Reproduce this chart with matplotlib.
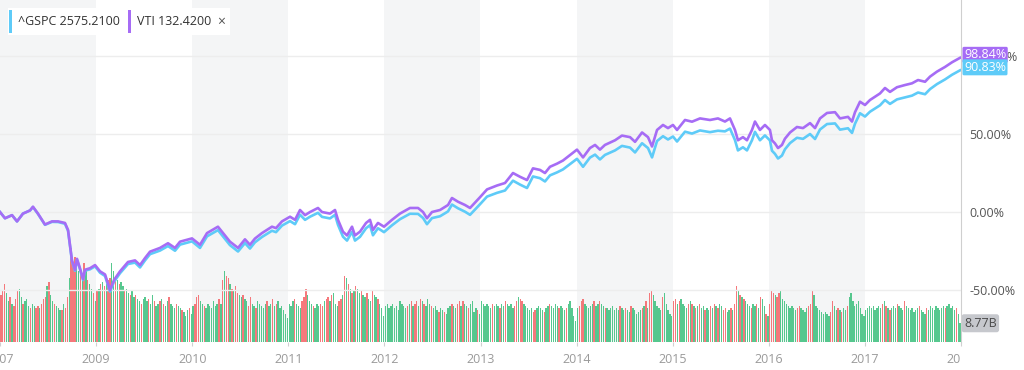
import numpy as np
import pandas as pd
import matplotlib
matplotlib.use("Agg")
import matplotlib.pyplot as plt
from matplotlib.patches import Rectangle
from matplotlib.transforms import Bbox

plt.rcParams['font.family'] = ['Open Sans', 'DejaVu Sans']

# price comparison (% change since start), dates as decimal years
dates = [2008.000, 2008.052, 2008.125, 2008.177, 2008.239, 2008.312, 2008.343, 2008.395,
         2008.468, 2008.541, 2008.604, 2008.676, 2008.708, 2008.749, 2008.780, 2008.801,
         2008.832, 2008.864, 2008.884, 2008.937, 2008.989, 2009.041, 2009.093, 2009.145,
         2009.186, 2009.249, 2009.332, 2009.405, 2009.457, 2009.509, 2009.561, 2009.665,
         2009.748, 2009.821, 2009.873, 2009.998, 2010.081, 2010.154, 2010.268, 2010.310,
         2010.393, 2010.477, 2010.549, 2010.601, 2010.653, 2010.726, 2010.830, 2010.872,
         2010.934, 2011.018, 2011.070, 2011.122, 2011.174, 2011.226, 2011.309, 2011.351,
         2011.434, 2011.486, 2011.517, 2011.569, 2011.611, 2011.663, 2011.694, 2011.746,
         2011.809, 2011.850, 2011.881, 2011.933, 2011.996, 2012.079, 2012.162, 2012.266,
         2012.350, 2012.402, 2012.443, 2012.495, 2012.579, 2012.662, 2012.703, 2012.766,
         2012.839, 2012.891, 2012.995, 2013.068, 2013.172, 2013.255, 2013.338, 2013.411,
         2013.484, 2013.546, 2013.619, 2013.671, 2013.723, 2013.796, 2013.858, 2013.931,
         2014.004, 2014.067, 2014.139, 2014.192, 2014.243, 2014.295, 2014.400, 2014.472,
         2014.556, 2014.608, 2014.681, 2014.743, 2014.785, 2014.837, 2014.899, 2014.951,
         2015.003, 2015.045, 2015.128, 2015.201, 2015.284, 2015.388, 2015.471, 2015.544,
         2015.596, 2015.648, 2015.679, 2015.731, 2015.773, 2015.825, 2015.856, 2015.908,
         2015.960, 2016.012, 2016.033, 2016.064, 2016.096, 2016.137, 2016.168, 2016.221,
         2016.293, 2016.356, 2016.429, 2016.481, 2016.533, 2016.606, 2016.689, 2016.741,
         2016.824, 2016.866, 2016.897, 2016.949, 2017.001, 2017.053, 2017.157, 2017.209,
         2017.261, 2017.334, 2017.417, 2017.490, 2017.553, 2017.626, 2017.678, 2017.750,
         2017.834, 2017.907, 2017.990]

vti = [0, -4, -2, -6, -1, 1, 3.4, -1, -8, -6, -6, -7, -11.5, -31, -37, -30,
       -36, -43, -37, -36, -34, -38, -40, -50, -43.6, -38, -32, -31, -34, -29.5, -25.4, -23,
       -20, -23, -19, -16.9, -21, -13.5, -9.4, -12.6, -19, -23, -17.5, -21, -17, -13.5, -9.4, -10.3,
       -6, -3, -5, 1.3, -2, 0, 2.6, 0, -1, 1.3, -5, -12.6, -15, -9.4, -15, -12.6,
       -7, -5, -11.5, -7, -9.4, -5, -1, 2.6, 2.6, 0, -4, 0, 1.3, 4.5, 9, 6.6,
       4.5, 2.6, 9.5, 14.5, 17, 18.6, 25, 22.6, 20.5, 28, 27, 25, 29, 31, 33, 36.5,
       40, 35, 41, 43, 40, 43, 46, 49, 48, 45, 51, 48, 42, 52.6, 55.8, 53.8,
       55.8, 52.6, 59, 57.9, 60, 59, 60, 58, 60, 52.6, 46, 48, 46, 52.6, 58, 52.6,
       55.8, 52.6, 46, 44, 41, 43, 47, 51, 54.5, 53.8, 57, 53.8, 60, 63.5, 64, 60,
       61, 58, 64, 70.7, 68.6, 71.8, 76, 79.5, 77, 80, 81.4, 82.5, 84.6, 83.5, 86.8, 90,
       93, 96, 98.84]

gspc = [0, -4, -2, -6, -1, 1, 3.2, -1.2, -8.2, -6.3, -6.4, -7.5, -12, -31.5, -37.6, -30.6,
        -36.6, -43.6, -37.6, -36.7, -34.8, -38.9, -41, -51, -44.7, -39.2, -33.3, -32.4, -35.5, -31, -27, -24.7,
        -21.8, -24.8, -20.9, -18.8, -23, -15.6, -11.6, -14.8, -21.2, -25.3, -19.9, -23.4, -19.4, -16, -12, -12.9,
        -8.7, -5.8, -7.8, -1.7, -5, -3, -0.5, -3.1, -4.1, -1.8, -8.2, -15.8, -18.3, -12.7, -18.3, -15.9,
        -10.4, -8.4, -14.9, -10.4, -12.9, -8.5, -4.6, -1.1, -1.2, -3.8, -7.8, -3.9, -2.7, 0.4, 4.8, 2.4,
        0.2, -1.8, 5, 9.9, 12.3, 13.8, 20.1, 17.6, 15.4, 22.8, 21.7, 19.6, 23.5, 25.4, 27.3, 30.7,
        34.1, 29, 34.9, 36.8, 33.7, 36.6, 39.5, 42.4, 41.3, 38.2, 44.1, 41, 35, 45.5, 48.6, 46.5,
        48.4, 45.2, 51.5, 50.3, 52.3, 51.2, 52.1, 51.7, 53.5, 46.1, 39.5, 41.5, 39.5, 46, 51.4, 46,
        49.1, 45.9, 39.3, 37.3, 34.3, 36.2, 40.2, 44.2, 47.6, 46.9, 50, 46.8, 52.9, 56.4, 56.8, 52.8,
        53.7, 50.7, 56.6, 63.3, 61.2, 64.3, 68.4, 71.8, 69.3, 72.2, 73.5, 74.6, 76.6, 75.5, 78.8, 82,
        85, 88, 90.83]

# weekly volume in billions, sign = up (+) / down (-) week
vol_2008 = [-22, -24, -27, 23, 19, -21, 18, -17, -20, -24, 25, 21,
            -18, 19, 20, 17, -16, 18, 17, -16, -17, 16, -18, -20,
            -21, 26, -28, 22, 19, -18, 17, 16, 15, -15, 18, -16,
            -21, 30, -44, -36, -40, 38, 33, -32, 30, -37, 34, -29,
            27, 25, -23, 19]
vol_2009 = [-24, 25, -27, 28, -26, 27, -29, -30, 37, 33, -31, 29,
            -27, 28, 26, -24, 25, 23, -22, 24, 21, -22, 20, 19,
            -18, 20, 21, 19, -20, 18, 22, -19, 17, 18, -19, 20,
            -18, 17, 19, -21, 18, 17, 16, -18, 17, 16, -15, 14,
            12, 15, -16, 13]
vol_2010 = [17, -18, -21, -22, 19, 18, -17, 16, 18, 17, 16, 19,
            17, 18, -20, 18, -29, 33, -31, -30, 27, -25, 24, -26,
            -23, 22, 21, -22, 20, 19, -17, -21, 18, 17, -16, 19,
            18, 17, 16, 18, -19, 17, 18, -20, 17, -18, 19, 16,
            17, 15, 13, 11]
vol_2011 = [18, 17, 19, -20, 18, 17, 16, -19, -21, -25, 22, 19,
            18, -17, 16, 18, 17, -18, -17, 19, -20, -21, 19, -22,
            23, 18, 17, -19, -20, 22, -31, 30, -27, 25, -23, 24,
            -26, 25, 23, -24, 22, 21, -23, 20, 19, -24, 22, 21,
            -20, 18, 16, 12]
vol_2012 = [17, 18, 16, 17, 18, 16, 17, 15, 19, 18, 17, 16,
            -17, 18, -19, 17, -18, -19, 17, -20, 19, -18, 17, 20,
            18, -17, 16, 17, 15, -14, 16, 15, -14, 13, 16, 17,
            -18, 17, 16, -18, -19, 17, -19, 18, 17, -16, 18, 19,
            14, 16, -15, 13]
vol_2013 = [19, 18, 17, 18, 17, 16, -18, 17, 18, 17, -16, 18,
            17, -19, 18, 17, 18, 16, -17, -19, 21, -20, -19, 18,
            17, 16, 15, 16, -14, -15, 16, 17, 16, 15, -14, 16,
            17, -18, 17, 16, 18, 17, -16, 17, 16, 15, -16, 18,
            19, 16, 12, 10]
vol_2014 = [16, -17, -19, -20, 18, 17, 16, 17, 18, -19, 17, 18,
            -19, 18, 17, -16, 16, 15, 16, 17, 15, 16, 15, -17,
            16, 15, -16, 15, 14, -17, 16, 15, 13, 14, 15, -16,
            17, -19, 16, -23, -24, 22, 19, 17, 16, 15, -21, 23,
            18, 15, 13, 12]
vol_2015 = [-19, -20, 18, -19, 20, 18, 17, 16, -18, 19, -18, 17,
            -16, 17, -18, 16, 17, -15, 16, 15, -17, 16, -18, 17,
            -16, 18, 17, -15, -16, 14, 15, -16, 15, -18, -26, 24,
            -22, 21, -20, 19, 18, 17, -16, 18, 17, -18, 16, -21,
            20, 17, -13, 12]
vol_2016 = [-18, -24, -23, 22, -21, -23, 24, 20, 19, 18, 17, 16,
            17, 16, 15, -16, -17, 16, 15, 14, 16, -17, -18, -24,
            22, 17, 16, 15, 14, 13, 14, 13, 12, -14, -19, 17,
            15, -16, 15, -14, 16, 15, -17, 21, 23, 19, 17, 18,
            19, 16, 13, 12]
vol_2017 = [15, 16, 17, 16, 17, 15, 16, 17, 16, -18, 19, -17,
            16, -15, 16, 17, 16, -18, 17, 16, 15, -19, 17, 16,
            15, 16, 14, 15, 16, -17, 15, 14, 13, -16, 15, 17,
            16, 15, 17, 16, 15, 16, 17, -16, 17, 18, 16, 17,
            15, -16, 13, 8.77]

volumes = {2008: vol_2008, 2009: vol_2009, 2010: vol_2010, 2011: vol_2011, 2012: vol_2012,
           2013: vol_2013, 2014: vol_2014, 2015: vol_2015, 2016: vol_2016, 2017: vol_2017}

year_ticks = list(range(2008, 2019))
year_labels = ['2007'] + [str(y) for y in range(2009, 2019)]
pct_ticks = [-50, 0, 50, 100]

c_vti = '#a66cf5'
c_spx = '#5ecbf8'
c_up = '#45c283'
c_down = '#f46b6e'

W, H = 1024, 370
fig = plt.figure(figsize=(W / 100, H / 100), dpi=100)
ax = fig.add_axes([0, (H - 342) / H, 961 / W, 342 / H])
axv = ax.twinx()
ax.set_zorder(2)
axv.set_zorder(1)
ax.patch.set_visible(False)

ax.set_xlim(2008, 2018)
ax.set_ylim(-83.3, 135.9)
axv.set_ylim(0, 160)

# alternating year bands
for y0 in range(2008, 2018, 2):
    axv.axvspan(y0, y0 + 1, color='#f4f5f6', zorder=0, lw=0)

# volume bars
for yr, vals in volumes.items():
    n = len(vals)
    xs = [yr + (i + 0.5) / n for i in range(n)]
    hs = [abs(v) for v in vals]
    cs = [c_up if v > 0 else c_down for v in vals]
    axv.bar(xs, hs, width=0.72 / 52, color=cs, alpha=0.9, linewidth=0, zorder=2)
axv.set_yticks([])

# grid
for t in pct_ticks:
    ax.axhline(t, color='#ededed', lw=1, zorder=0)

ax.plot(dates, gspc, color=c_spx, lw=1.9, zorder=3, solid_joinstyle='round')
ax.plot(dates, vti, color=c_vti, lw=1.9, zorder=4, solid_joinstyle='round')

for a in (ax, axv):
    for s in ('top', 'left', 'bottom', 'right'):
        a.spines[s].set_visible(False)
ax.spines['right'].set_visible(True)
ax.spines['right'].set_color('#cfcfcf')

ax.yaxis.tick_right()
ax.set_yticks(pct_ticks)
ax.set_yticklabels([f'{t:.2f}%' for t in pct_ticks])
ax.tick_params(axis='y', length=0, pad=6, labelsize=9, labelcolor='#555555')

ax.set_xticks(year_ticks)
ax.set_xticklabels(year_labels)
ax.tick_params(axis='x', length=3, color='#d0d0d0', pad=5, labelsize=9, labelcolor='#9a9a9a')
clip = Bbox.from_extents(0, 0, 961, H)
for tk in ax.xaxis.get_major_ticks():
    tk.label1.set_clip_box(clip)
    tk.label1.set_clip_on(True)

# last-value tags on the right axis
ax.annotate(f'{vti[-1]:.2f}%', xy=(1, vti[-1]), xycoords=('axes fraction', 'data'),
            xytext=(3, 3), textcoords='offset pixels', va='center', ha='left',
            color='white', fontsize=9, zorder=10, annotation_clip=False,
            bbox=dict(boxstyle='round,pad=0.12', fc=c_vti, ec='none'))
ax.annotate(f'{gspc[-1]:.2f}%', xy=(1, gspc[-1]), xycoords=('axes fraction', 'data'),
            xytext=(3, 3), textcoords='offset pixels', va='center', ha='left',
            color='white', fontsize=9, zorder=10, annotation_clip=False,
            bbox=dict(boxstyle='round,pad=0.12', fc=c_spx, ec='none'))
last_vol = abs(vol_2017[-1])
axv.annotate(f'{last_vol:.2f}B', xy=(1, last_vol), xycoords=('axes fraction', 'data'),
             xytext=(3, 0), textcoords='offset pixels', va='center', ha='left',
             color='#4a4a4a', fontsize=9, zorder=10, annotation_clip=False,
             bbox=dict(boxstyle='round,pad=0.2', fc='#c6c8cd', ec='none'))

# legend chips at top-left
def fx(px):
    return px / W

def fy(py):
    return 1 - py / H

fig.patches.append(Rectangle((fx(8), fy(35)), fx(222), 27 / H, transform=fig.transFigure,
                             fc='white', ec='none', zorder=5))
fig.patches.append(Rectangle((fx(9), fy(33)), fx(3), 23 / H, transform=fig.transFigure,
                             fc=c_spx, ec='none', zorder=6))
fig.patches.append(Rectangle((fx(128), fy(33)), fx(3), 23 / H, transform=fig.transFigure,
                             fc=c_vti, ec='none', zorder=6))
t1 = fig.text(fx(18), fy(21.5), '^GSPC 2575.2100', fontsize=9, color='#333333',
              va='center', ha='left', zorder=7)
t1.set_clip_box(Bbox.from_extents(0, 0, 122, H))
t1.set_clip_on(True)
t2 = fig.text(fx(137), fy(21.5), 'VTI 132.4200', fontsize=9, color='#333333',
              va='center', ha='left', zorder=7)
t2.set_clip_box(Bbox.from_extents(0, 0, 213, H))
t2.set_clip_on(True)
fig.text(fx(221), fy(22), '×', fontsize=10, color='#555555', va='center', ha='center', zorder=7)

fig.savefig('out.png', dpi=100)
